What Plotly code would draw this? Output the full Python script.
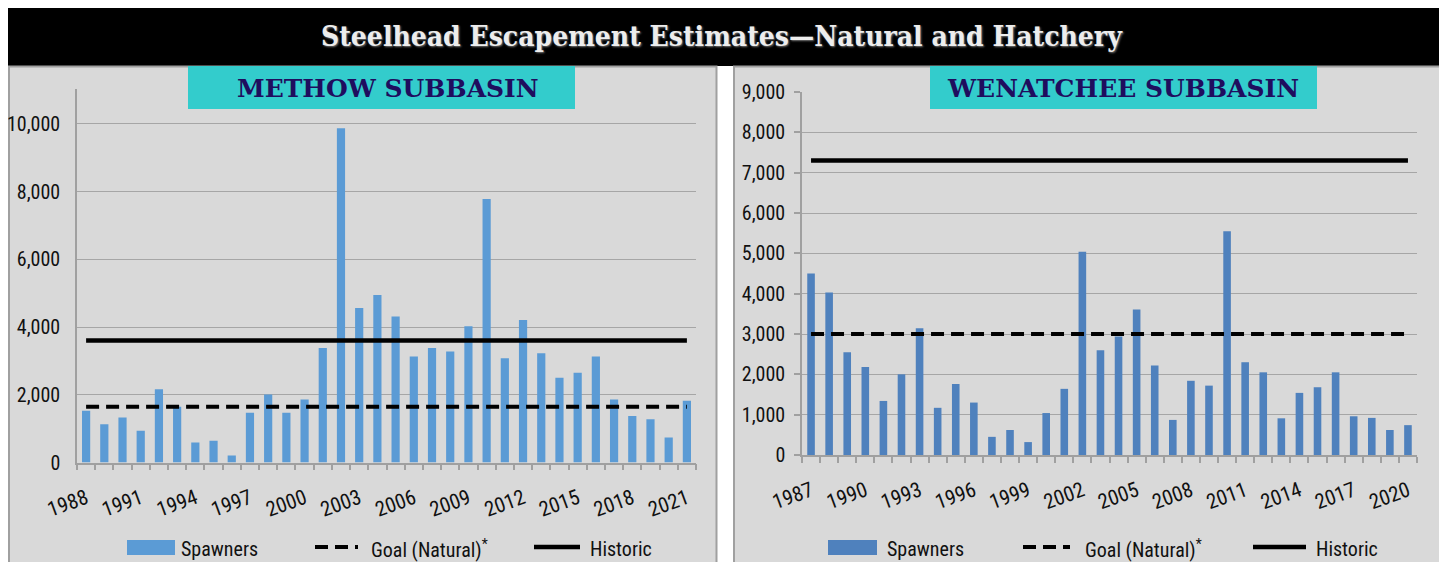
import plotly.graph_objects as go
from plotly.subplots import make_subplots

# the page body adds an 8px margin, so the figure is sized to fill the rest
PAGE_W, PAGE_H = 1447, 562
OFF = 8
W, H = PAGE_W - OFF, PAGE_H - OFF

# Methow subbasin
methow_years = list(range(1988, 2022))
methow_spawners = [
    1530, 1130, 1330, 940, 2160, 1650, 590, 640, 210, 1470,
    2010, 1470, 1860, 3380, 9870, 4560, 4950, 4310, 3130, 3380,
    3280, 4020, 7780, 3080, 4210, 3230, 2500, 2650, 3130, 1860,
    1370, 1280, 740, 1820,
]
methow_goal = 1650
methow_historic = 3600

# Wenatchee subbasin
wenatchee_years = list(range(1987, 2021))
wenatchee_spawners = [
    4500, 4030, 2550, 2180, 1340, 2000, 3140, 1170, 1760, 1300,
    450, 620, 320, 1040, 1640, 5040, 2600, 2940, 3610, 2220,
    870, 1840, 1720, 5550, 2300, 2050, 910, 1540, 1680, 2050,
    960, 920, 620, 740,
]
wenatchee_goal = 3000
wenatchee_historic = 7300

title_text = "Steelhead Escapement Estimates\u2014Natural and Hatchery"
panel_titles = ["METHOW SUBBASIN", "WENATCHEE SUBBASIN"]
legend_labels = ["Spawners", "Goal (Natural)<sup>*</sup>", "Historic"]

NARROW = "Liberation Sans Narrow, Arial Narrow, Roboto Condensed, Liberation Sans, sans-serif"
PANEL_GRAY = "#D9D9D9"
BORDER_GRAY = "#A0A0A0"
GRID_GRAY = "#A6A6A6"


def px_x(v):
    return (v - OFF) / W


def px_y(v):
    return 1 - (v - OFF) / H


fig = make_subplots(rows=1, cols=2)

panels = [
    dict(years=methow_years, spawners=methow_spawners, goal=methow_goal,
         historic=methow_historic, color="#5B9BD5", width=0.45),
    dict(years=wenatchee_years, spawners=wenatchee_spawners, goal=wenatchee_goal,
         historic=wenatchee_historic, color="#4F81BD", width=0.42),
]

for i, p in enumerate(panels, start=1):
    fig.add_trace(
        go.Bar(x=p["years"], y=p["spawners"], marker_color=p["color"],
               marker_line_width=0, width=p["width"], name="Spawners",
               showlegend=False),
        row=1, col=i,
    )
    ends = [p["years"][0], p["years"][-1]]
    fig.add_trace(
        go.Scatter(x=ends, y=[p["goal"], p["goal"]], mode="lines",
                   line=dict(color="black", width=4, dash="13px,7px"),
                   name="Goal (Natural)", showlegend=False),
        row=1, col=i,
    )
    fig.add_trace(
        go.Scatter(x=ends, y=[p["historic"], p["historic"]], mode="lines",
                   line=dict(color="black", width=4.5),
                   name="Historic", showlegend=False),
        row=1, col=i,
    )

# axes
common_x = dict(
    tickangle=-20, ticks="", showgrid=False, showline=True, linecolor=BORDER_GRAY,
    linewidth=1.5, tickfont=dict(family=NARROW, size=21, color="#111"),
    minor=dict(ticks="outside", ticklen=6, tickcolor=BORDER_GRAY, tickwidth=1.5,
               tick0=0.5, dtick=1, showgrid=False),
    ticklabelstandoff=14, zeroline=False, automargin=False,
)
fig.update_xaxes(
    domain=[px_x(77), px_x(696)], range=[methow_years[0] - 0.5, methow_years[-1] + 0.5],
    tickmode="array", tickvals=methow_years[::3], row=1, col=1, **common_x,
)
fig.update_xaxes(
    domain=[px_x(802), px_x(1417)],
    range=[wenatchee_years[0] - 0.5, wenatchee_years[-1] + 0.5],
    tickmode="array", tickvals=wenatchee_years[::3], row=1, col=2, **common_x,
)

common_y = dict(
    showgrid=True, gridcolor=GRID_GRAY, gridwidth=1.3, showline=True,
    linecolor=BORDER_GRAY, linewidth=1.5, zeroline=False, tickformat=",d",
    tickfont=dict(family=NARROW, size=20, color="#111"), automargin=False,
)
fig.update_yaxes(
    domain=[px_y(462.5), px_y(89)], range=[0, 11030], dtick=2000,
    ticks="", ticklabelstandoff=11, row=1, col=1, **common_y,
)
fig.update_yaxes(
    domain=[px_y(455), px_y(92)], range=[0, 9000], dtick=1000,
    ticks="outside", ticklen=6, tickcolor=BORDER_GRAY, tickwidth=1.5,
    ticklabelstandoff=5, row=1, col=2, **common_y,
)

shapes = [
    # black header band
    dict(type="rect", xref="paper", yref="paper", x0=0, x1=1.0,
         y0=px_y(66), y1=px_y(7), fillcolor="black", line_width=0, layer="below"),
    # gray panels
    dict(type="rect", xref="paper", yref="paper", x0=px_x(9), x1=px_x(716.5),
         y0=px_y(566), y1=px_y(66.5), fillcolor=PANEL_GRAY,
         line=dict(color=BORDER_GRAY, width=2), layer="below"),
    dict(type="rect", xref="paper", yref="paper", x0=px_x(734), x1=px_x(1442),
         y0=px_y(566), y1=px_y(66.5), fillcolor=PANEL_GRAY,
         line=dict(color=BORDER_GRAY, width=2), layer="below"),
    # cyan panel title boxes
    dict(type="rect", xref="paper", yref="paper", x0=px_x(188), x1=px_x(575),
         y0=px_y(109), y1=px_y(66), fillcolor="#33CCCC", line_width=0, layer="above"),
    dict(type="rect", xref="paper", yref="paper", x0=px_x(930), x1=px_x(1317),
         y0=px_y(109), y1=px_y(66), fillcolor="#33CCCC", line_width=0, layer="above"),
]

annotations = [
    dict(text="<b>" + title_text + "</b>", xref="paper", yref="paper",
         x=px_x(722), y=px_y(36), showarrow=False, xanchor="center", yanchor="middle",
         font=dict(family="DejaVu Serif Condensed, DejaVu Serif", size=28,
                   color="#EDEDED", shadow="1px 1px 2px #777")),
    dict(text="<b>" + panel_titles[0] + "</b>", xref="paper", yref="paper",
         x=px_x(388), y=px_y(88), showarrow=False, xanchor="center", yanchor="middle",
         font=dict(family="DejaVu Serif", size=25, color="#1F0D5E")),
    dict(text="<b>" + panel_titles[1] + "</b>", xref="paper", yref="paper",
         x=px_x(1123), y=px_y(88), showarrow=False, xanchor="center", yanchor="middle",
         font=dict(family="DejaVu Serif", size=25, color="#1F0D5E")),
]

# hand-drawn legends (wide swatches as in the original)
legend_rows = [
    dict(rect=(127, 175), goal=(315, 358), hist=(534, 580),
         texts=(179, 369, 588), color=panels[0]["color"]),
    dict(rect=(828, 877), goal=(1023, 1070), hist=(1253, 1306),
         texts=(885, 1083, 1314), color=panels[1]["color"]),
]
LEG_Y = 547
for row in legend_rows:
    shapes.append(dict(type="rect", xref="paper", yref="paper",
                       x0=px_x(row["rect"][0]), x1=px_x(row["rect"][1]),
                       y0=px_y(555), y1=px_y(540), fillcolor=row["color"],
                       line_width=0, layer="above"))
    shapes.append(dict(type="line", xref="paper", yref="paper",
                       x0=px_x(row["goal"][0]), x1=px_x(row["goal"][1]),
                       y0=px_y(LEG_Y), y1=px_y(LEG_Y),
                       line=dict(color="black", width=4, dash="13px,7px"), layer="above"))
    shapes.append(dict(type="line", xref="paper", yref="paper",
                       x0=px_x(row["hist"][0]), x1=px_x(row["hist"][1]),
                       y0=px_y(LEG_Y), y1=px_y(LEG_Y),
                       line=dict(color="black", width=4.5), layer="above"))
    for tx, label in zip(row["texts"], legend_labels):
        annotations.append(dict(text=label, xref="paper", yref="paper",
                                x=px_x(tx), y=px_y(LEG_Y + 2), showarrow=False,
                                xanchor="left", yanchor="middle",
                                font=dict(family=NARROW, size=20, color="#111")))

fig.update_layout(
    width=W, height=H, margin=dict(l=0, r=0, t=0, b=0, autoexpand=False),
    paper_bgcolor="white", plot_bgcolor="white",
    showlegend=False, bargap=0.5, shapes=shapes, annotations=annotations,
)

fig.write_html("out.html")
